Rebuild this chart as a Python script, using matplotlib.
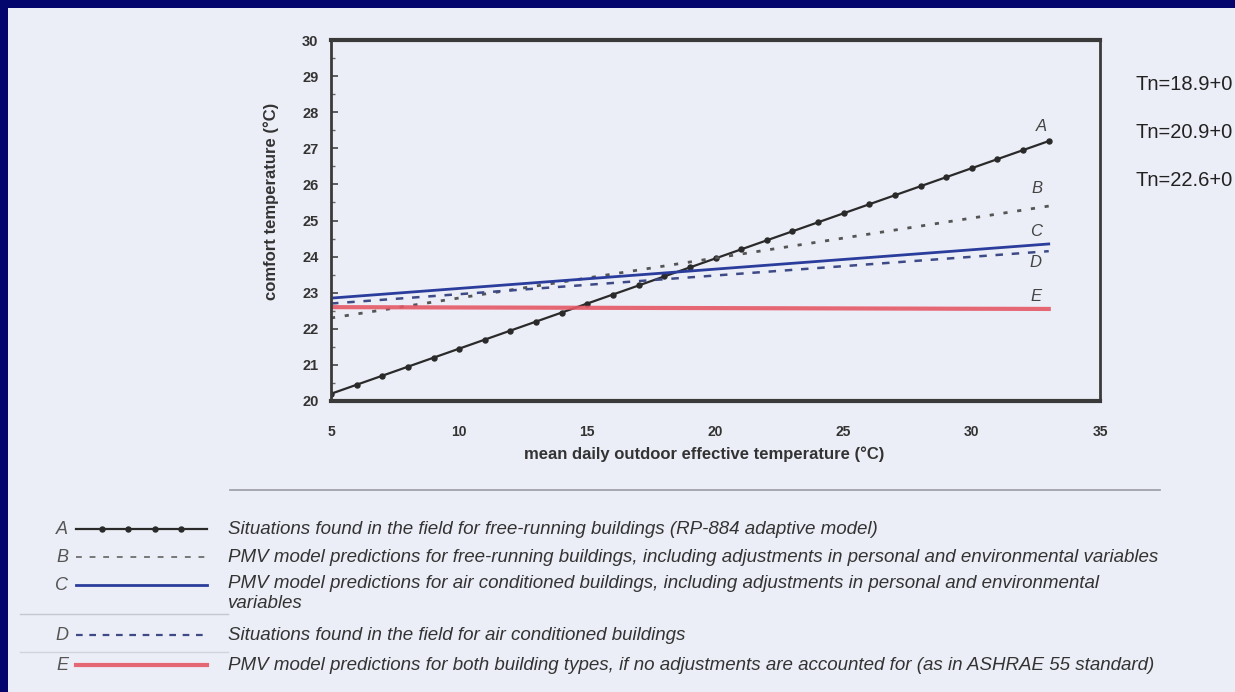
import numpy as np
import matplotlib.pyplot as plt
from matplotlib.patches import Rectangle

# outdoor effective temperature (deg C) and comfort temperatures read per series
outdoor_temp = [5, 6, 7, 8, 9, 10, 11, 12, 13, 14, 15, 16, 17, 18, 19, 20,
                21, 22, 23, 24, 25, 26, 27, 28, 29, 30, 31, 32, 33]
comfort_a = [20.2, 20.45, 20.7, 20.95, 21.2, 21.45, 21.7, 21.95, 22.2, 22.45,
             22.7, 22.95, 23.2, 23.45, 23.7, 23.95, 24.2, 24.45, 24.7, 24.95,
             25.2, 25.45, 25.7, 25.95, 26.2, 26.45, 26.7, 26.95, 27.2]

line_ends = [5, 33]
comfort_b = [22.3, 25.4]
comfort_c = [22.85, 24.35]
comfort_d = [22.7, 24.15]
comfort_e = [22.6, 22.55]

series_names = ['A', 'B', 'C', 'D', 'E']
name_pos = [(32.7, 27.6), (32.55, 25.9), (32.5, 24.7), (32.5, 23.85), (32.5, 22.9)]

legend_text = [
    'Situations found in the field for free-running buildings (RP-884 adaptive model)',
    'PMV model predictions for free-running buildings, including adjustments in personal and environmental variables',
    'PMV model predictions for air conditioned buildings, including adjustments in personal and environmental\nvariables',
    'Situations found in the field for air conditioned buildings',
    'PMV model predictions for both building types, if no adjustments are accounted for (as in ASHRAE 55 standard)',
]
equations = ['Tn=18.9+0', 'Tn=20.9+0', 'Tn=22.6+0']

NAVY = '#05056e'
PAPER = '#eceef7'
INK = '#333333'
BLUE = '#2b3d9c'
DBLUE = '#3d4a86'
RED = '#e55866'

styles = {
    'A': dict(color='#2a2a2a', lw=1.6, marker='o', ms=3.6),
    'B': dict(color='#555555', lw=2.0, ls=(0, (1.5, 3.5))),
    'C': dict(color=BLUE, lw=2.0),
    'D': dict(color=DBLUE, lw=1.8, ls=(0, (3, 3.5))),
    'E': dict(color=RED, lw=3.0, alpha=0.9),
}
legend_styles = {
    'B': dict(color='#777777', lw=1.4, ls=(0, (3, 4))),
    'D': dict(color=DBLUE, lw=1.6, ls=(0, (3, 3))),
}
narrow = ['Liberation Sans Narrow', 'Liberation Sans', 'DejaVu Sans']

fig = plt.figure(figsize=(12.35, 6.92), dpi=100)
fig.patch.set_facecolor(NAVY)

# page layer in pixel coordinates
page = fig.add_axes([0, 0, 1, 1], zorder=0)
page.set_xlim(0, 1235)
page.set_ylim(692, 0)
page.axis('off')
page.add_patch(Rectangle((8, 8), 1240, 700, color=PAPER, lw=0))
page.plot([230, 1160], [490, 490], color='#9a9aa4', lw=1.2)
page.plot([20, 228], [614, 614], color='#c5c6cf', lw=1.0)
page.plot([20, 228], [652, 652], color='#d2d3db', lw=1.0)

for i, eq in enumerate(equations):
    page.text(1135, 84 + 48 * i, eq, fontsize=14.5, color='#222222',
              family=narrow, va='center', ha='left')

row_y = [529, 557, 585, 635, 665]
for i, name in enumerate(series_names):
    y = row_y[i]
    page.text(62, y, name, fontsize=13, style='italic', color='#555555',
              family='Liberation Sans', ha='center', va='center')
    st = dict(legend_styles.get(name, styles[name]))
    if name == 'A':
        st['markevery'] = [1, 2, 3, 4]
        page.plot(np.linspace(76, 207, 6), [y] * 6, **st)
    else:
        page.plot([76, 207], [y, y], **st)
    txt = page.text(228, y, legend_text[i], fontsize=13.5, style='italic',
                    color=INK, family='Liberation Sans', ha='left',
                    va='center', linespacing=1.2)
    # two-line entry hangs from its row
    if '\n' in legend_text[i]:
        txt.set_va('top')
        txt.set_y(y - 10)

# main chart
ax = fig.add_axes([331 / 1235, 1 - 401 / 692, (1100 - 331) / 1235, 361 / 692],
                  zorder=1)
ax.set_facecolor(PAPER)
ax.plot(outdoor_temp, comfort_a, **styles['A'])
ax.plot(line_ends, comfort_b, **styles['B'])
ax.plot(line_ends, comfort_d, **styles['D'])
ax.plot(line_ends, comfort_c, **styles['C'])
ax.plot(line_ends, comfort_e, **styles['E'])

for name, (x, y) in zip(series_names, name_pos):
    ax.text(x, y, name, fontsize=12, style='italic', color='#444444',
            family='Liberation Sans', ha='center', va='center')

ax.set_xlim(5, 35)
ax.set_ylim(20, 30)
ax.set_xticks([5, 10, 15, 20, 25, 30, 35])
ax.set_yticks(range(20, 31))
ax.set_yticks(np.arange(20.5, 30, 1), minor=True)
ax.tick_params(axis='x', length=0, pad=17, labelsize=10, labelcolor=INK)
ax.tick_params(axis='y', which='major', direction='in', length=5, width=1.2,
               pad=9, labelsize=10.5, labelcolor=INK, color='#444444')
ax.tick_params(axis='y', which='minor', direction='in', length=3, width=1,
               color='#666666')
for lab in ax.get_xticklabels() + ax.get_yticklabels():
    lab.set_fontweight('bold')
    lab.set_family(narrow)

ax.set_xlabel('mean daily outdoor effective temperature (°C)', fontsize=12,
              fontweight='bold', color=INK, family='Liberation Sans')
ax.xaxis.set_label_coords(0.485, -0.125)
ax.set_ylabel('comfort temperature (°C)', fontsize=12, fontweight='bold',
              color=INK, family='Liberation Sans')
ax.yaxis.set_label_coords(-0.068, 0.554)

for side, w in [('top', 3), ('bottom', 3), ('left', 2), ('right', 2)]:
    ax.spines[side].set_linewidth(w)
    ax.spines[side].set_color('#3a3a3a')

fig.savefig('out.png', dpi=100, facecolor=NAVY)
